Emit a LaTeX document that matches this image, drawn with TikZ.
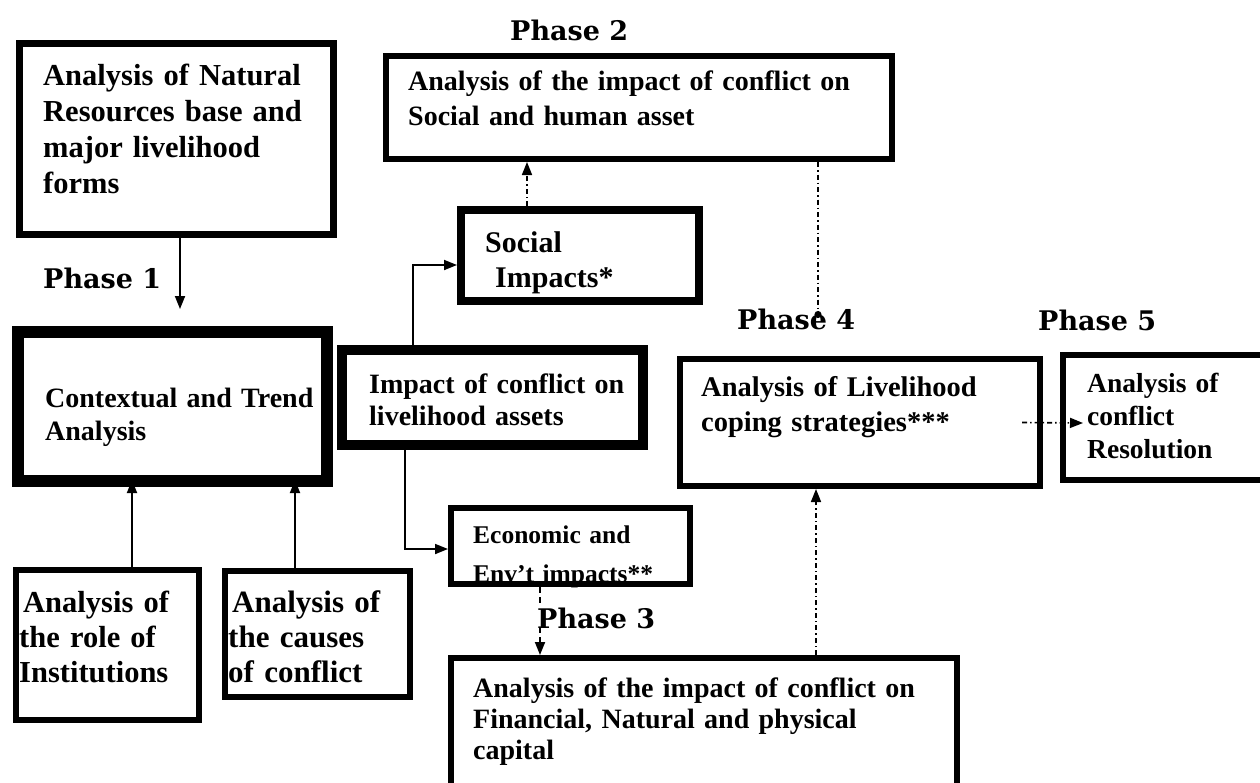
\documentclass[tikz,border=0pt]{standalone}
\usepackage{fontspec}
\setmainfont{Liberation Serif}
\newfontfamily\phasefont{DejaVu Serif}
\usetikzlibrary{arrows.meta}
\newcommand{\fs}[2]{\bfseries\fontsize{#1}{#2}\selectfont}

\tikzset{
  box/.style={draw, rectangle, inner sep=0pt},
  txt/.style={anchor=base west, inner sep=0pt, align=left, text width=480pt},
  phase/.style={anchor=base west, inner sep=0pt, font=\phasefont\fs{27}{32}},
  conn/.style={line width=1.8pt, -{Triangle[length=13pt,width=10pt]}},
  dd/.style={line width=1.6pt, dash pattern=on 5pt off 3pt on 1.5pt off 3pt},
}

\begin{document}
\begin{tikzpicture}[x=1pt, y=-1pt]
    \useasboundingbox (0,0) rectangle (1260,782);
    \clip (0,0) rectangle (1260,782);
    \node [box, line width=7pt, minimum width=314pt, minimum height=191pt] at (176.5,139) (nat) {};
    \node [box, line width=6pt, minimum width=506pt, minimum height=103pt] at (639,107.5) (ph2) {};
    \node [box, line width=8pt, minimum width=238pt, minimum height=91pt] at (580,255.5) (soc) {};
    \node [box, line width=12pt, minimum width=309pt, minimum height=149pt] at (172.5,406.5) (ctx) {};
    \node [box, line width=10pt, minimum width=301pt, minimum height=95pt] at (492.5,397.5) (imp) {};
    \node [box, line width=6pt, minimum width=239pt, minimum height=76pt] at (570.5,546) (econ) {};
    \node [box, line width=6pt, minimum width=360pt, minimum height=127pt] at (860,422.5) (lhood) {};
    \node [box, line width=6pt, minimum width=209pt, minimum height=125pt] at (1167.5,417.5) (res) {};
    \node [box, line width=6pt, minimum width=183pt, minimum height=150pt] at (107.5,645) (inst) {};
    \node [box, line width=6pt, minimum width=185pt, minimum height=126pt] at (317.5,634) (cause) {};
    \node [box, line width=6pt, minimum width=506pt, minimum height=139pt] at (704,727.5) (ph3) {};

    \node [txt, font=\fs{30.5}{36}] at (43,85) (natT) {Analysis of Natural\\Resources base and\\major livelihood\\forms};
    \node [txt, font=\fs{28}{35}] at (408,90) (ph2T) {Analysis of the impact of conflict on\\Social and human asset};
    \node [txt, font=\fs{30}{35}] at (485,252) (socT) {Social\\~Impacts*};
    \node [txt, font=\fs{28}{33}] at (45,407) (ctxT) {Contextual and Trend\\Analysis};
    \node [txt, font=\fs{28}{32}] at (369,393) (impT) {Impact of conflict on\\livelihood assets};
    \node [txt, font=\fs{25.5}{39}] at (473,543) (econT) {Economic and\\Env’t impacts**};
    \node [txt, font=\fs{28.5}{35}] at (701,396) (lhoodT) {Analysis of Livelihood\\coping strategies***};
    \node [txt, font=\fs{27.5}{33}] at (1087,392) (resT) {Analysis of\\conflict\\Resolution};
    \node [txt, font=\fs{30.5}{35}] at (19,612) (instT) {\hspace*{4pt}Analysis of\\the role of\\Institutions};
    \node [txt, font=\fs{31}{35}] at (228,612) (causeT) {\hspace*{4pt}Analysis of\\the causes\\of conflict};
    \node [txt, font=\fs{28}{31}] at (473,697) (ph3T) {Analysis of the impact of conflict on\\Financial, Natural and physical\\capital};

    \coordinate (p4dot) at (818,318);
    \coordinate (resin) at (1083,423);
    \draw [conn] ([xshift=3.5pt]nat.south) -- ([xshift=7.5pt,yshift=17pt]ctx.north);
    \draw [conn] ([xshift=24.5pt]inst.north) -- ([xshift=24.5pt,yshift=7pt]inst.north |- ctx.south);
    \draw [conn] ([xshift=-22.5pt]cause.north) -- ([xshift=-22.5pt,yshift=7pt]cause.north |- ctx.south);
    \draw [conn] ([xshift=-79.5pt]imp.north) |- ([yshift=-9.5pt]soc.west);
    \draw [conn] ([xshift=-87.5pt]imp.south) |- ([yshift=-3pt]econ.west);
    \draw [conn, dd] ([xshift=-53pt]soc.north) -- ([xshift=-53pt]soc.north |- ph2.south);
    \draw [dd, -{Circle[length=7pt]}] ([xshift=179pt]ph2.south) -- (p4dot);
    \draw [conn, dash pattern=on 6pt off 4pt] ([xshift=-30.5pt]econ.south) -- ([xshift=-30.5pt]econ.south |- ph3.north);
    \draw [conn, dd] ([xshift=112pt]ph3.north) -- ([xshift=112pt]ph3.north |- lhood.south);
    \draw [conn, dd] ([xshift=-21pt]lhood.east) -- (resin);

    \node [phase] at (43,288) (ph1L) {Phase 1};
    \node [phase] at (510,40) (ph2L) {Phase 2};
    \node [phase, fill=white] at (537,628) (ph3L) {Phase 3};
    \node [phase] at (737,329) (ph4L) {Phase 4};
    \node [phase] at (1038,330) (ph5L) {Phase 5};
\end{tikzpicture}
\end{document}
